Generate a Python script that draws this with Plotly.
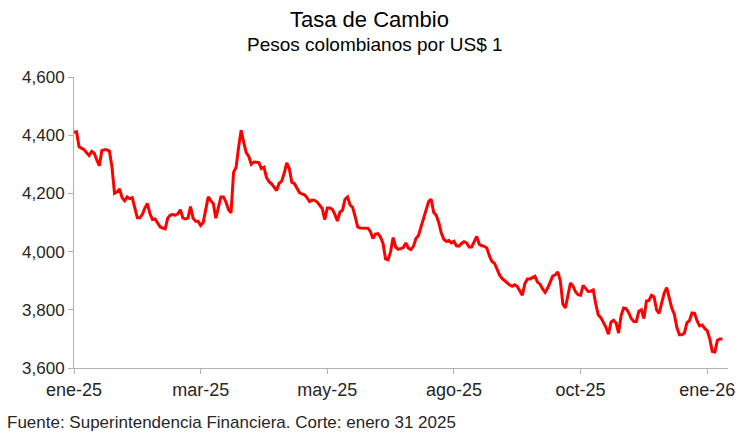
import plotly.graph_objects as go

# Daily COP per USD exchange rate (trading days)
rates = [
    4410, 4412, 4360, 4355, 4350, 4340, 4330, 4344, 4338, 4315,
    4295, 4347, 4350, 4350, 4345, 4290, 4200, 4205, 4215, 4185,
    4175, 4188, 4182, 4185, 4155, 4116, 4116, 4128, 4150, 4165,
    4130, 4110, 4112, 4100, 4085, 4081, 4078, 4115, 4125, 4127,
    4125, 4130, 4144, 4115, 4112, 4115, 4155, 4115, 4104, 4104,
    4090, 4100, 4140, 4188, 4175, 4165, 4115, 4150, 4188, 4188,
    4170, 4144, 4133, 4272, 4290, 4360, 4417, 4375, 4340, 4327,
    4300, 4308, 4306, 4306, 4285, 4290, 4255, 4240, 4233, 4220,
    4210, 4235, 4242, 4270, 4305, 4285, 4238, 4234, 4220, 4203,
    4198, 4195, 4185, 4172, 4177, 4176, 4170, 4160, 4148, 4110,
    4150, 4150, 4145, 4128, 4105, 4136, 4142, 4180, 4188, 4160,
    4152, 4120, 4085, 4081, 4081, 4081, 4080, 4070, 4045, 4060,
    4062, 4050, 4028, 3975, 3972, 4000, 4048, 4015, 4008, 4010,
    4014, 4030, 4012, 4007, 4018, 4045, 4055, 4085, 4112, 4140,
    4172, 4180, 4135, 4125, 4100, 4065, 4042, 4035, 4038, 4030,
    4035, 4020, 4019, 4028, 4034, 4030, 4016, 4016, 4032, 4052,
    4025, 4020, 4018, 4012, 3985, 3966, 3960, 3940, 3920, 3908,
    3900, 3890, 3885, 3881, 3886, 3880, 3865, 3850, 3890, 3906,
    3906, 3912, 3915, 3895, 3888, 3872, 3860, 3875, 3895, 3916,
    3920, 3930, 3900, 3820, 3806, 3850, 3892, 3882, 3862, 3852,
    3850, 3884, 3873, 3863, 3864, 3868, 3820, 3782, 3773, 3758,
    3740, 3716, 3758, 3764, 3755, 3720, 3780, 3806, 3804, 3790,
    3770, 3760, 3760, 3795, 3800, 3770, 3830, 3832, 3850, 3845,
    3800, 3788, 3820, 3857, 3876, 3835, 3806, 3785, 3740, 3714,
    3714, 3720, 3756, 3763, 3789, 3788, 3762, 3745, 3748, 3736,
    3728, 3700, 3657, 3655, 3695, 3700, 3700,
]
day_index = list(range(len(rates)))

tick_positions = [0, 50, 100, 150, 200, 250]
tick_labels = ["ene-25", "mar-25", "may-25", "ago-25", "oct-25", "ene-26"]
y_ticks = [3600, 3800, 4000, 4200, 4400, 4600]

title_text = "Tasa de Cambio"
subtitle_text = "Pesos colombianos por US$ 1"
source_text = "Fuente: Superintendencia Financiera. Corte: enero 31 2025"

FONT = "Liberation Sans, Arial, sans-serif"
AXIS_GREY = "#B0B0B0"
TEXT = "#262626"

# the page body adds an 8px margin, so the figure is sized/offset to compensate
PLOT_L, PLOT_R, PLOT_T, PLOT_B = 74, 735, 77, 368   # target plot area in page px
PW = PLOT_R - PLOT_L
PH = PLOT_B - PLOT_T


def px_x(px):
    return (px - PLOT_L) / PW


def px_y(py):
    return (PLOT_B - py) / PH


fig = go.Figure()
fig.add_trace(go.Scatter(
    x=day_index, y=rates, mode="lines",
    line=dict(color="#FF0000", width=3),
    showlegend=False, hoverinfo="y",
))

fig.update_layout(
    width=737, height=424,
    margin=dict(l=PLOT_L - 8, r=737 - (PLOT_R - 8), t=PLOT_T - 8, b=424 - (PLOT_B - 8)),
    paper_bgcolor="white", plot_bgcolor="white",
    font=dict(family=FONT, color=TEXT),
    xaxis=dict(
        range=[0, 258.2], showgrid=False, zeroline=False,
        showline=True, linecolor=AXIS_GREY, linewidth=1,
        tickmode="array", tickvals=tick_positions, ticktext=tick_labels,
        ticks="outside", ticklen=5, tickcolor=AXIS_GREY,
        tickfont=dict(size=18, family=FONT, color=TEXT),
    ),
    yaxis=dict(
        range=[3600, 4600], showgrid=False, zeroline=False,
        showline=True, linecolor=AXIS_GREY, linewidth=1,
        tickmode="array", tickvals=y_ticks, tickformat=",.0f",
        ticks="outside", ticklen=5, tickcolor=AXIS_GREY,
        tickfont=dict(size=17, family=FONT, color=TEXT),
    ),
    annotations=[
        dict(text=title_text, xref="paper", yref="paper",
             x=px_x(373), y=px_y(19),
             xanchor="center", yanchor="middle", showarrow=False,
             font=dict(size=22, family=FONT, color="#000000")),
        dict(text=subtitle_text, xref="paper", yref="paper",
             x=px_x(378), y=px_y(45),
             xanchor="center", yanchor="middle", showarrow=False,
             font=dict(size=19, family=FONT, color="#000000")),
        dict(text=source_text, xref="paper", yref="paper",
             x=px_x(4), y=px_y(422),
             xanchor="left", yanchor="middle", showarrow=False,
             font=dict(size=17, family=FONT, color=TEXT)),
    ],
)

fig.write_html("out.html")
